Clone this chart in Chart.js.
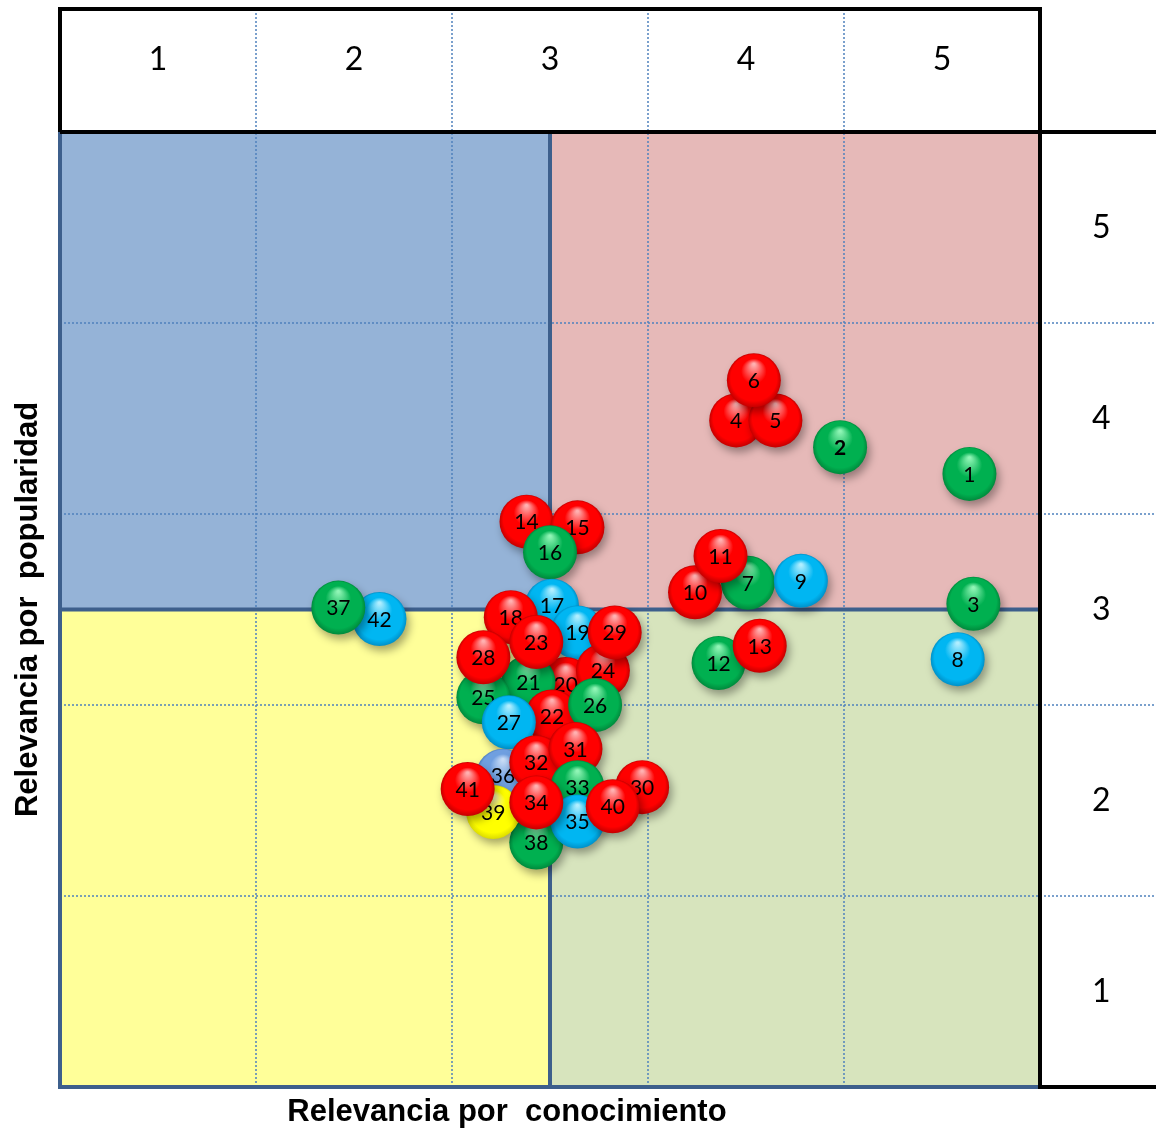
<!DOCTYPE html>
<html>
<head>
<meta charset="utf-8">
<script src="https://cdn.jsdelivr.net/npm/chart.js@4.4.0/dist/chart.umd.min.js"></script>
<style>
body { margin: 0; background: #fff; }
</style>
</head>
<body>
<canvas id="grafica" width="1156" height="1131"></canvas>
<script>
// bubbles listed in drawing order (later ones sit on top)
var etiquetas = ['1','2','3','4','5','6','7','8','9','10','11','12','13','14','15','16','17','18','19','20','21','22',
	'24','25','26','27','28','23','29','36','32','31','33','38','35','30','40','39','41','34','42','37'];
var conocimiento = [4.64, 3.98, 4.66, 3.45, 3.65, 3.54, 3.51, 4.58, 3.78, 3.24, 3.37, 3.36, 3.57, 2.38, 2.64, 2.50, 2.51, 2.30, 2.64, 2.58, 2.39, 2.51,
	2.77, 2.16, 2.73, 2.29, 2.16, 2.43, 2.83, 2.26, 2.43, 2.63, 2.64, 2.43, 2.64, 2.97, 2.82, 2.21, 2.08, 2.43, 1.63, 1.42];
var popularidad = [3.21, 3.35, 2.53, 3.49, 3.49, 3.70, 2.64, 2.24, 2.65, 2.59, 2.78, 2.22, 2.31, 2.96, 2.93, 2.80, 2.52, 2.46, 2.38, 2.11, 2.12, 1.94,
	2.18, 2.04, 2.00, 1.91, 2.25, 2.33, 2.38, 1.63, 1.70, 1.77, 1.57, 1.28, 1.39, 1.57, 1.47, 1.44, 1.56, 1.49, 2.45, 2.51];
// r = rojo, v = verde, a = azul, c = azul claro, m = amarillo
var grupo = ['v','v','v','r','r','r','v','a','a','r','r','v','r','r','r','v','a','r','a','r','v','r',
	'r','v','v','a','r','r','r','c','r','r','v','v','a','r','r','m','r','r','a','v'];
var columnas = ['1', '2', '3', '4', '5'];
var filas = ['1', '2', '3', '4', '5'];
var centros = [0.5, 1.5, 2.5, 3.5, 4.5];

var tonos = {
	r: ['#ffb0b0', '#ff0000', '#c40000'],
	v: ['#8ff5b5', '#00b050', '#008a3c'],
	a: ['#b0eeff', '#00b6f2', '#0090c8'],
	c: ['#c8dcf6', '#6f9fe0', '#4f7fc0'],
	m: ['#ffffc0', '#ffff00', '#dcdc00']
};
var RADIO = 27;

function esfera(grp) {
	return function(c) {
		if (c.type !== 'data' || !c.chart.scales.x) return tonos[grp][1];
		var ch = c.chart;
		var cx = ch.scales.x.getPixelForValue(c.raw.x);
		var cy = ch.scales.y.getPixelForValue(c.raw.y);
		if (!isFinite(cx) || !isFinite(cy)) return tonos[grp][1];
		var g = ch.ctx.createRadialGradient(cx, cy - RADIO * 0.6, 1, cx, cy, RADIO);
		g.addColorStop(0, tonos[grp][0]);
		g.addColorStop(0.45, tonos[grp][1]);
		g.addColorStop(0.85, tonos[grp][1]);
		g.addColorStop(1, tonos[grp][2]);
		return g;
	};
}

var conjuntos = etiquetas.map(function(et, i) {
	return {
		label: et,
		data: [{ x: conocimiento[i], y: popularidad[i] }],
		radius: RADIO,
		borderWidth: 0,
		backgroundColor: esfera(grupo[i]),
		order: etiquetas.length - i
	};
});

// axes that only carry the box sizes, no extra layout padding
function sinRelleno(s) {
	s.paddingTop = 0; s.paddingBottom = 0; s.paddingLeft = 0; s.paddingRight = 0;
}

var fondo = {
	id: 'fondo',
	beforeDatasetsDraw: function(chart) {
		var ctx = chart.ctx, a = chart.chartArea, x = chart.scales.x, y = chart.scales.y;
		var mx = x.getPixelForValue(2.5), my = y.getPixelForValue(2.5);
		var arriba = a.top - 123;
		ctx.save();
		ctx.fillStyle = '#95b3d7'; ctx.fillRect(a.left, a.top, mx - a.left, my - a.top);
		ctx.fillStyle = '#e6b9b8'; ctx.fillRect(mx, a.top, a.right - mx, my - a.top);
		ctx.fillStyle = '#ffff99'; ctx.fillRect(a.left, my, mx - a.left, a.bottom - my);
		ctx.fillStyle = '#d7e4bd'; ctx.fillRect(mx, my, a.right - mx, a.bottom - my);

		// dotted grid, running into the header boxes
		ctx.strokeStyle = '#4f81bd';
		ctx.lineWidth = 1.5;
		ctx.setLineDash([2, 2]);
		for (var i = 1; i < 5; i++) {
			var px = x.getPixelForValue(i), py = y.getPixelForValue(i);
			ctx.beginPath(); ctx.moveTo(px, arriba); ctx.lineTo(px, a.bottom); ctx.stroke();
			ctx.beginPath(); ctx.moveTo(a.left, py); ctx.lineTo(chart.width, py); ctx.stroke();
		}
		ctx.setLineDash([]);

		// quadrant dividers and plot frame
		ctx.strokeStyle = '#3d5f8c';
		ctx.lineWidth = 4;
		ctx.beginPath();
		ctx.moveTo(mx, a.top); ctx.lineTo(mx, a.bottom);
		ctx.moveTo(a.left, my); ctx.lineTo(a.right, my);
		ctx.moveTo(a.left, a.top); ctx.lineTo(a.left, a.bottom); ctx.lineTo(a.right, a.bottom);
		ctx.stroke();

		// black header boxes
		ctx.strokeStyle = '#000';
		ctx.lineWidth = 4;
		ctx.beginPath();
		ctx.moveTo(a.left, a.top); ctx.lineTo(a.left, arriba); ctx.lineTo(a.right, arriba);
		ctx.lineTo(a.right, a.bottom); ctx.lineTo(chart.width, a.bottom);
		ctx.moveTo(a.left, a.top); ctx.lineTo(chart.width, a.top);
		ctx.stroke();
		ctx.restore();

		ctx.save();
		ctx.shadowColor = 'rgba(0,0,0,0.35)';
		ctx.shadowBlur = 9;
		ctx.shadowOffsetX = 3;
		ctx.shadowOffsetY = 5;
	},
	afterDatasetDraw: function(chart, args) {
		var ctx = chart.ctx;
		var p = args.meta.data[0];
		var et = args.meta.label;
		ctx.save();
		ctx.shadowColor = 'rgba(0,0,0,0)';
		ctx.fillStyle = '#000';
		ctx.textAlign = 'center';
		ctx.textBaseline = 'middle';
		ctx.font = (et === '2' ? 'bold ' : '') + '21px Lato';
		ctx.fillText(et, p.x, p.y + 1);
		ctx.restore();
	},
	afterDatasetsDraw: function(chart) {
		chart.ctx.restore();
	}
};

new Chart(document.getElementById('grafica'), {
	type: 'bubble',
	data: { datasets: conjuntos },
	options: {
		responsive: false,
		animation: false,
		layout: { padding: 0, autoPadding: false },
		plugins: { legend: { display: false }, tooltip: { enabled: false } },
		scales: {
			x: {
				type: 'linear', position: 'bottom', min: 0, max: 5,
				grid: { display: false }, border: { display: false }, ticks: { display: false },
				title: {
					display: true,
					text: 'Relevancia por  conocimiento' + '\u00a0'.repeat(10),
					color: '#000',
					font: { family: 'Liberation Sans', size: 31, weight: 'bold' },
					padding: { top: 0, bottom: 0 }
				},
				afterFit: function(s) { s.height = 44; sinRelleno(s); }
			},
			x2: {
				type: 'linear', position: 'top', min: 0, max: 5,
				grid: { display: false, drawTicks: false }, border: { display: false },
				afterBuildTicks: function(s) { s.ticks = centros.map(function(v) { return { value: v }; }); },
				ticks: {
					callback: function(v, i) { return columnas[i]; },
					color: '#000', font: { family: 'Lato', size: 32 },
					padding: 53, maxRotation: 0, autoSkip: false
				},
				afterFit: function(s) { s.height = 132; sinRelleno(s); }
			},
			y: {
				type: 'linear', position: 'left', min: 0, max: 5,
				grid: { display: false }, border: { display: false }, ticks: { display: false },
				title: {
					display: true,
					text: 'Relevancia por  popularidad',
					color: '#000',
					font: { family: 'Liberation Sans', size: 31, weight: 'bold' },
					padding: { top: 10, bottom: 0 }
				},
				afterFit: function(s) { s.width = 60; sinRelleno(s); }
			},
			y2: {
				type: 'linear', position: 'right', min: 0, max: 5,
				grid: { display: false, drawTicks: false }, border: { display: false },
				afterBuildTicks: function(s) { s.ticks = centros.map(function(v) { return { value: v }; }); },
				ticks: {
					callback: function(v, i) { return filas[i]; },
					color: '#000', font: { family: 'Lato', size: 32 },
					padding: 52, autoSkip: false
				},
				afterFit: function(s) { s.width = 116; sinRelleno(s); }
			}
		}
	},
	plugins: [fondo]
});
</script>
</body>
</html>
